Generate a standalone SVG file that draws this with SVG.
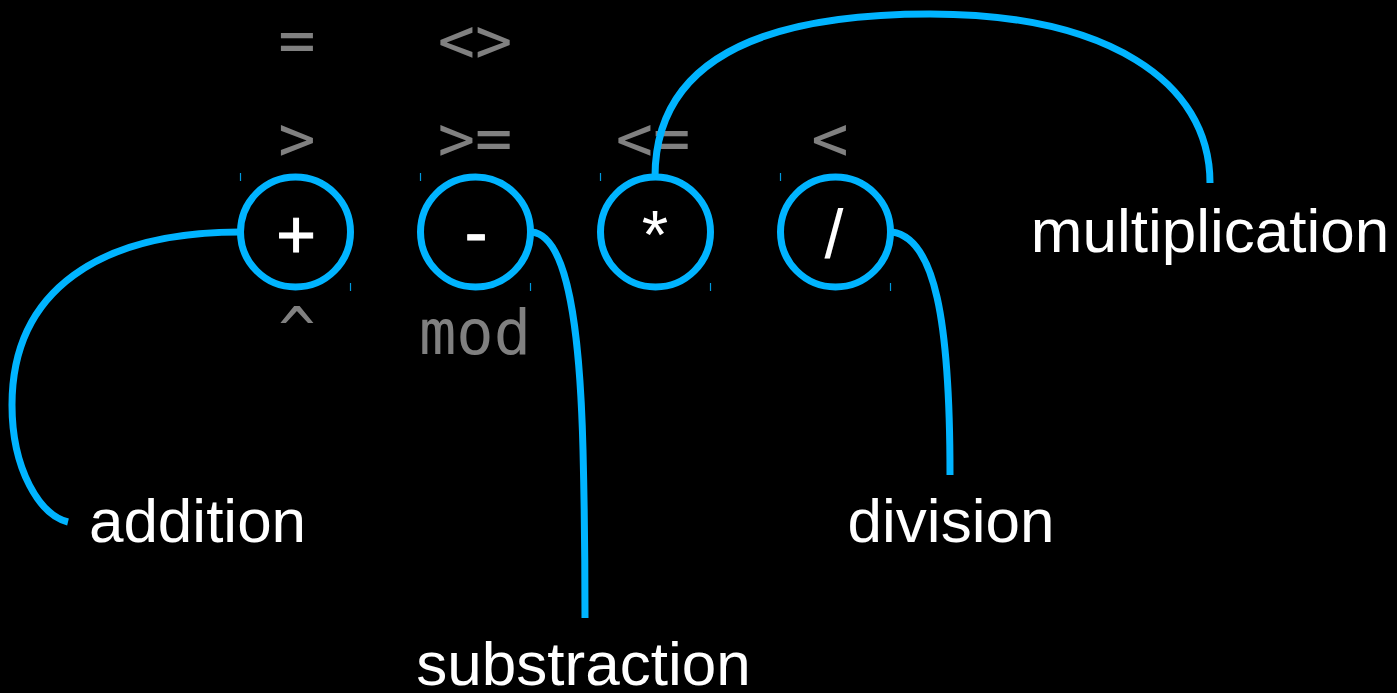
<svg xmlns="http://www.w3.org/2000/svg" width="1397" height="693" viewBox="0 0 1397 693">
  <style>
    .bg { fill: #000; }
    .ring { fill: none; stroke: #00b4ff; stroke-width: 7; }
    .tick { stroke: #0098dd; stroke-width: 1.2; }
    .op { font-family: "Liberation Sans", Arial, sans-serif; font-size: 68px; fill: #fff; text-anchor: middle; }
    .alt { font-family: "DejaVu Sans Mono", "Liberation Mono", monospace; font-size: 62px; fill: #808080; text-anchor: middle; }
    .wire { fill: none; stroke: #00b4ff; stroke-width: 7; }
    .label { font-family: "Liberation Sans", Arial, sans-serif; font-size: 62px; fill: #fff; text-anchor: middle; }
  </style>
  <rect class="bg" x="0" y="0" width="1397" height="693"/>

  <!-- alternative operator spellings -->
  <g id="alternatives">
    <text class="alt" x="297" y="62">=</text>
    <text class="alt" x="475" y="62">&lt;&gt;</text>
    <text class="alt" x="297" y="160">&gt;</text>
    <text class="alt" x="475" y="160">&gt;=</text>
    <text class="alt" x="653" y="160">&lt;=</text>
    <text class="alt" x="830" y="160">&lt;</text>
    <text class="alt" x="297" y="352">^</text>
    <text class="alt" x="475" y="354">mod</text>
  </g>

  <!-- operator nodes -->
  <g id="node-add">
    <line class="tick" x1="240.5" y1="173" x2="240.5" y2="181"/>
    <line class="tick" x1="350.5" y1="283" x2="350.5" y2="291"/>
    <circle class="ring" cx="295.5" cy="232" r="55"/>
    <text class="op" x="296" y="258" stroke="#fff" stroke-width="1">+</text>
  </g>
  <g id="node-sub">
    <line class="tick" x1="420.5" y1="173" x2="420.5" y2="181"/>
    <line class="tick" x1="530.5" y1="283" x2="530.5" y2="291"/>
    <circle class="ring" cx="475.5" cy="232" r="55"/>
    <text class="op" x="476" y="256" stroke="#fff" stroke-width="1">-</text>
  </g>
  <g id="node-mul">
    <line class="tick" x1="600.5" y1="173" x2="600.5" y2="181"/>
    <line class="tick" x1="710.5" y1="283" x2="710.5" y2="291"/>
    <circle class="ring" cx="655.5" cy="232" r="55"/>
    <text class="op" x="655" y="258">*</text>
  </g>
  <g id="node-div">
    <line class="tick" x1="780.5" y1="173" x2="780.5" y2="181"/>
    <line class="tick" x1="890.5" y1="283" x2="890.5" y2="291"/>
    <circle class="ring" cx="835.5" cy="232" r="55"/>
    <text class="op" x="834" y="258">/</text>
  </g>

  <!-- leader lines from nodes to labels -->
  <g id="connectors">
    <path class="wire" d="M 240 232 C 100 232, 12 290, 12 405 C 12 470, 40 515, 68 522"/>
    <path class="wire" d="M 532 232 C 568 236, 580 330, 583 450 C 585 530, 585 580, 585 618"/>
    <path class="wire" d="M 655 177 C 655 50, 780 14, 930 14 C 1105 14, 1210 80, 1210 183"/>
    <path class="wire" d="M 892 232 C 935 238, 950 320, 950 475"/>
  </g>

  <g id="labels">
    <text class="label" x="197.5" y="542">addition</text>
    <text class="label" x="583.5" y="685">substraction</text>
    <text class="label" x="1210" y="252">multiplication</text>
    <text class="label" x="951" y="542">division</text>
  </g>
</svg>
